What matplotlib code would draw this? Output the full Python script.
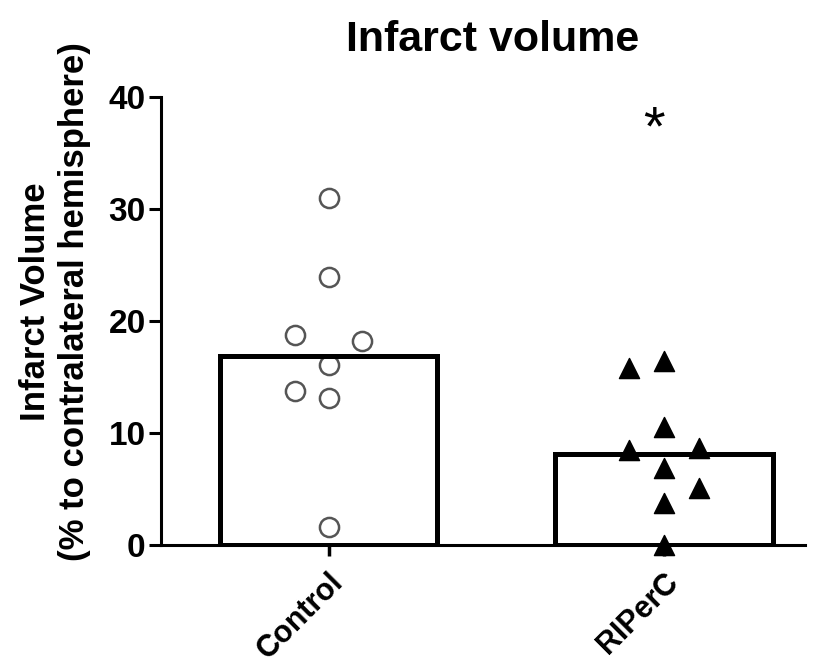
import numpy as np
import matplotlib.pyplot as plt
import matplotlib.transforms as mtransforms

plt.rcParams['font.family'] = ['Liberation Sans', 'DejaVu Sans']

groups = ["Control", "RIPerC"]
means = [16.9, 8.1]
control_vals = [31.0, 23.9, 18.8, 18.2, 16.1, 13.75, 13.1, 1.6]
control_dx = [0.0, 0.0, -0.1, 0.1, 0.0, -0.1, 0.0, 0.0]
riperc_vals = [15.8, 16.4, 10.5, 8.5, 8.7, 6.9, 5.1, 3.75, 0.0]
riperc_dx = [-0.105, 0.0, 0.0, -0.105, 0.105, 0.0, 0.105, 0.0, 0.0]
star_y = 37.0

fig = plt.figure(figsize=(8.21, 6.71), dpi=100)
ax = fig.add_axes([0.196, 0.188, 0.784, 0.667])

x = np.arange(len(groups))
# bars outlined only, drawn over the points like the original
ax.bar(x, means, width=0.65, facecolor='none', edgecolor='black', linewidth=3.6, zorder=4)

ax.scatter(x[0] + np.array(control_dx), control_vals, s=190, marker='o',
           facecolor='white', edgecolor='#555555', linewidth=1.8, zorder=3, clip_on=False)
ax.scatter(x[1] + np.array(riperc_dx), riperc_vals, s=210, marker='^',
           facecolor='black', edgecolor='black', zorder=3, clip_on=False)

ax.text(x[1] - 0.03, star_y, '*', ha='center', va='center', fontsize=40)

ax.set_xlim(-0.5, 1.42)
ax.set_ylim(0, 40)
ax.set_yticks([0, 10, 20, 30, 40])
ax.set_xticks(x)
ax.set_xticklabels(groups, rotation=45, ha='right', va='top', rotation_mode='anchor',
                   fontsize=22, fontweight='bold')
shift = mtransforms.ScaledTranslation(7 / 72, 0, fig.dpi_scale_trans)
for lab in ax.get_xticklabels():
    lab.set_transform(lab.get_transform() + shift)
for lab in ax.get_yticklabels():
    lab.set_fontweight('bold')
ax.tick_params(axis='y', labelsize=24, width=2.2, length=9, pad=2)
ax.tick_params(axis='x', width=2.5, length=8, pad=8)

for s in ['top', 'right']:
    ax.spines[s].set_visible(False)
for s in ['left', 'bottom']:
    ax.spines[s].set_linewidth(2.2)

fig.text(0.067, 0.55, "Infarct Volume\n(% to contralateral hemisphere)", fontsize=25,
         fontweight='bold', rotation=90, ha='center', va='center',
         multialignment='center', linespacing=1.25)
fig.text(0.6, 0.924, "Infarct volume", fontsize=31, fontweight='bold',
         ha='center', va='baseline')

fig.savefig("out.png", dpi=100)
